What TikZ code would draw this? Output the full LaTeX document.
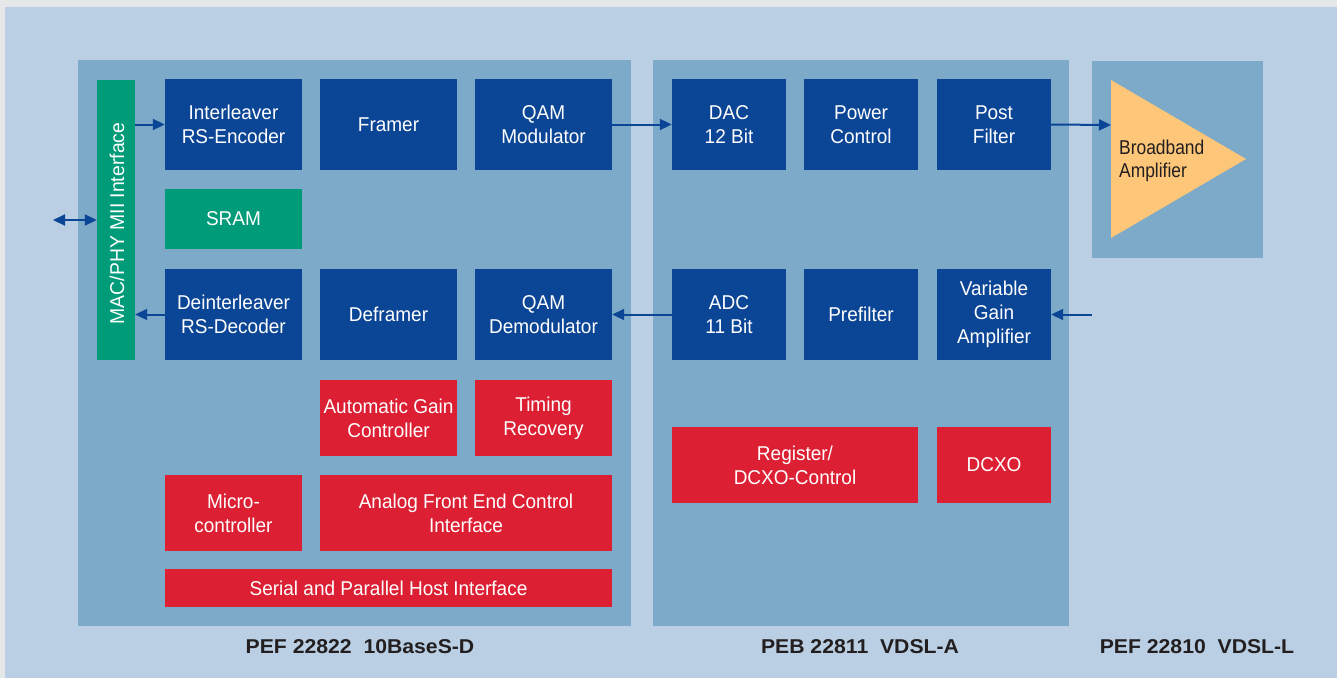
\documentclass[tikz,border=0pt]{standalone}
\usepackage{fontspec}
\setmainfont{Liberation Sans}
\newfontfamily\blkfont[FakeStretch=0.95]{Liberation Sans}
\newfontfamily\ampfont[FakeStretch=0.87]{Liberation Sans}
\newfontfamily\macfont[FakeStretch=0.97]{Liberation Sans}
\newfontfamily\footfont[FakeStretch=1.06]{Liberation Sans}
\usetikzlibrary{arrows.meta}
\definecolor{graybg}{HTML}{E6E7E9}
\definecolor{lightbg}{HTML}{BACFE3}
\definecolor{panelbg}{HTML}{7EAAC9}
\definecolor{dblue}{HTML}{0B4595}
\definecolor{dgreen}{HTML}{009B78}
\definecolor{dred}{HTML}{DC1F33}
\definecolor{amber}{HTML}{FDC679}
\definecolor{dtext}{HTML}{231F20}
\tikzset{
  blockbase/.style={inner sep=0pt, align=center, text=white,
    font=\blkfont\fontsize{20}{24}\selectfont},
  bluebox/.style={blockbase, fill=dblue},
  greenbox/.style={blockbase, fill=dgreen},
  redbox/.style={blockbase, fill=dred},
  sig/.style={draw=dblue, line width=2pt, -{Triangle[length=12pt,width=11pt]}},
  bisig/.style={draw=dblue, line width=2pt, {Triangle[length=12pt,width=11pt]}-{Triangle[length=12pt,width=11pt]}},
  chiplabel/.style={text=dtext, font=\footfont\bfseries\fontsize{20}{22}\selectfont}
}
\begin{document}
\begin{tikzpicture}[x=1pt,y=-1pt]
\useasboundingbox (0,0) rectangle (1337,678);
\fill[graybg] (0,0) rectangle (1337,678);
\fill[lightbg] (5,7) rectangle (1337,678);
% panels
\fill[panelbg] (78,60) rectangle (631,626);
\fill[panelbg] (653,60) rectangle (1069,626);
\fill[panelbg] (1092,61) rectangle (1263,258);
% amplifier
\fill[amber] (1111,80) -- (1246,159) -- (1111,238) -- cycle;
\node[anchor=west, align=left, text=dtext, font=\ampfont\fontsize{20}{23}\selectfont, inner sep=0pt] (bamp) at (1119,161) {Broadband\\Amplifier};
\coordinate (ampin) at (1111,125);
\coordinate (extin) at (1092,314.5);
\coordinate (extl) at (53,220);
% panel 1
\node[greenbox, minimum width=38pt, minimum height=280pt] (mac) at (116,220) {};
\node[rotate=90, text=white, font=\macfont\fontsize{20}{22}\selectfont, inner sep=0pt] (mactxt) at (117,223.5) {MAC/PHY MII Interface};
\node[bluebox, minimum width=137pt, minimum height=91pt] (intl) at (233.5,124.5) {Interleaver\\RS-Encoder};
\node[bluebox, minimum width=137pt, minimum height=91pt] (framer) at (388.5,124.5) {Framer};
\node[bluebox, minimum width=137pt, minimum height=91pt] (qammod) at (543.5,124.5) {QAM\\Modulator};
\node[greenbox, minimum width=137pt, minimum height=60pt] (sram) at (233.5,219) {SRAM};
\node[bluebox, minimum width=137pt, minimum height=91pt] (deint) at (233.5,314.5) {Deinterleaver\\RS-Decoder};
\node[bluebox, minimum width=137pt, minimum height=91pt] (deframer) at (388.5,314.5) {Deframer};
\node[bluebox, minimum width=137pt, minimum height=91pt] (qamdem) at (543.5,314.5) {QAM\\Demodulator};
\node[redbox, minimum width=137pt, minimum height=76pt] (agc) at (388.5,418) {Automatic Gain\\Controller};
\node[redbox, minimum width=137pt, minimum height=76pt] (timing) at (543.5,418) {Timing\\Recovery};
\node[redbox, minimum width=137pt, minimum height=76pt] (micro) at (233.5,513) {Micro-\\controller};
\node[redbox, minimum width=292pt, minimum height=76pt] (afe) at (466,513) {Analog Front End Control\\Interface};
\node[redbox, minimum width=447pt, minimum height=38pt] (serial) at (388.5,588) {Serial and Parallel Host Interface};
% panel 2
\node[bluebox, minimum width=114pt, minimum height=91pt] (dac) at (729,124.5) {DAC\\12 Bit};
\node[bluebox, minimum width=114pt, minimum height=91pt] (power) at (861,124.5) {Power\\Control};
\node[bluebox, minimum width=114pt, minimum height=91pt] (post) at (994,124.5) {Post\\Filter};
\node[bluebox, minimum width=114pt, minimum height=91pt] (adc) at (729,314.5) {ADC\\11 Bit};
\node[bluebox, minimum width=114pt, minimum height=91pt] (prefilter) at (861,314.5) {Prefilter};
\node[bluebox, minimum width=114pt, minimum height=91pt] (vga) at (994,314.5) {Variable\\Gain\\Amplifier};
\node[redbox, minimum width=246pt, minimum height=76pt] (reg) at (795,465) {Register/\\DCXO-Control};
\node[redbox, minimum width=114pt, minimum height=76pt] (dcxo) at (994,465) {DCXO};
% connectors
\draw[sig] (mac.east |- intl.west) -- (intl.west);
\draw[sig] (qammod.east) -- (dac.west);
\draw[sig] (post.east) -- (ampin);
\draw[bisig] (extl) -- (mac.west);
\draw[sig] (deint.west) -- (mac.east |- deint.west);
\draw[sig] (adc.west) -- (qamdem.east);
\draw[sig] (extin) -- (vga.east);
% labels
\node[chiplabel] (l1) at (360,647) {PEF 22822\ \ 10BaseS-D};
\node[chiplabel] (l2) at (860,647) {PEB 22811\ \ VDSL-A};
\node[chiplabel] (l3) at (1197,647) {PEF 22810\ \ VDSL-L};
\end{tikzpicture}
\end{document}
